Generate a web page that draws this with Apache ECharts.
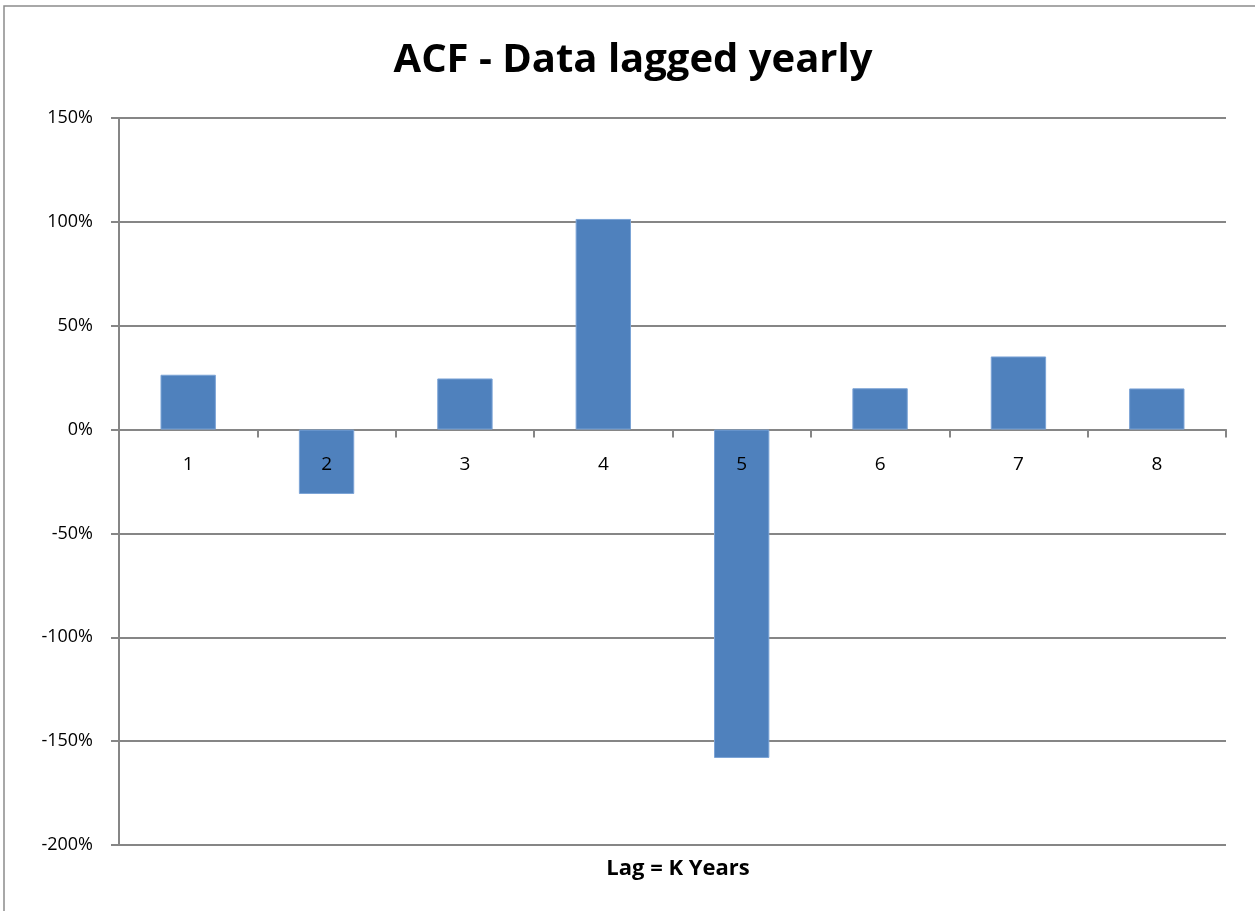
<!DOCTYPE html>
<html>
<head>
<meta charset="utf-8">
<script src="https://cdn.jsdelivr.net/npm/echarts@6/dist/echarts.min.js"></script>
<style>
  html, body { margin: 0; padding: 0; background: #fff; }
  #chart { width: 1255px; height: 911px; }
</style>
</head>
<body>
<div id="chart"></div>
<script>
// Lag numbers (years) and autocorrelation at each lag, in percent
const lags = ['1', '2', '3', '4', '5', '6', '7', '8'];
const acfValues = [26.4, -31.0, 24.6, 101.4, -158.1, 19.9, 35.2, 19.8];

const FONT = '"Open Sans", sans-serif';
const gridGray = '#868686';
const yMin = -200, yMax = 150;
const gridTop = 118, gridBottom = 66, chartHeight = 911;

// distance from the bottom of the plot up to the zero line, for the label row
const plotHeight = chartHeight - gridTop - gridBottom;
const zeroOffset = plotHeight * (0 - yMin) / (yMax - yMin);

const chart = echarts.init(document.getElementById('chart'));
chart.setOption({
  animation: false,
  backgroundColor: '#fff',
  title: [
    {
      text: 'ACF - Data lagged yearly',
      left: 628, top: 36, textAlign: 'center',
      textStyle: { fontFamily: FONT, fontWeight: 'bold', fontSize: 40, color: '#000' }
    },
    {
      text: 'Lag = K Years',
      left: 673, top: 853, textAlign: 'center',
      textStyle: { fontFamily: FONT, fontWeight: 'bold', fontSize: 22, color: '#000' }
    }
  ],
  graphic: [{
    type: 'rect',
    shape: { x: 4, y: 6, width: 1300, height: 1000 },
    style: { fill: 'none', stroke: '#8c8c8c', lineWidth: 1.5 },
    silent: true
  }],
  grid: { left: 119, right: 29, top: gridTop, bottom: gridBottom, containLabel: false },
  xAxis: [
    {
      type: 'category',
      data: lags,
      boundaryGap: true,
      axisLine: { onZero: true, lineStyle: { color: gridGray, width: 2 } },
      axisTick: { show: true, alignWithLabel: false, inside: false, length: 8, lineStyle: { color: gridGray, width: 2 } },
      axisLabel: { show: false },
      splitLine: { show: false }
    },
    {
      // label row sitting just under the zero line, drawn above the bars
      type: 'category',
      data: lags,
      position: 'bottom',
      offset: -zeroOffset,
      z: 10,
      boundaryGap: true,
      axisLine: { show: false },
      axisTick: { show: false },
      axisLabel: { margin: 26, fontFamily: FONT, fontSize: 19, color: '#000' },
      splitLine: { show: false }
    }
  ],
  yAxis: {
    type: 'value',
    min: yMin, max: yMax, interval: 50,
    axisLine: { show: true, lineStyle: { color: gridGray, width: 2 } },
    axisTick: { show: true, length: 8, lineStyle: { color: gridGray, width: 2 } },
    axisLabel: { formatter: '{value}%', margin: 26, fontFamily: FONT, fontSize: 18, color: '#000' },
    splitLine: { show: true, lineStyle: { color: gridGray, width: 2 } }
  },
  series: [{
    type: 'bar',
    xAxisIndex: 0,
    data: acfValues,
    barCategoryGap: '60%',
    itemStyle: { color: '#4F81BD', borderColor: '#7BA3D6', borderWidth: 1 }
  }]
});
</script>
</body>
</html>
